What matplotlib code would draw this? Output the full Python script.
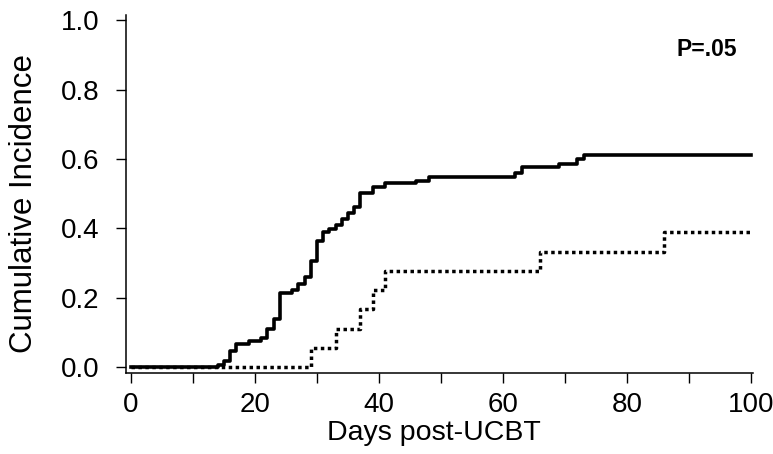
import matplotlib
matplotlib.use("Agg")
import matplotlib.pyplot as plt

# --- dados ---
# curva cheia (grupo 1): dias e incidência acumulada após cada degrau
dias_1 = [0, 14, 15, 16, 17, 19, 21, 22, 23, 24, 26, 27, 28, 29, 30, 31, 32, 33,
          34, 35, 36, 37, 39, 41, 46, 48, 62, 63, 69, 72, 73, 100]
inc_1 = [0.0, 0.007, 0.019, 0.047, 0.066, 0.076, 0.085, 0.110, 0.139, 0.213, 0.223,
         0.240, 0.261, 0.307, 0.364, 0.390, 0.399, 0.410, 0.426, 0.445, 0.462, 0.501,
         0.520, 0.530, 0.537, 0.549, 0.559, 0.576, 0.585, 0.599, 0.611, 0.611]

# curva pontilhada (grupo 2)
dias_2 = [0, 29, 33, 37, 39, 41, 66, 86, 100]
inc_2 = [0.0, 0.056, 0.111, 0.167, 0.222, 0.278, 0.333, 0.389, 0.389]

xticks = [0, 10, 20, 30, 40, 50, 60, 70, 80, 90, 100]
xticklabels = ["0", "", "20", "", "40", "", "60", "", "80", "", "100"]
yticks = [0.0, 0.2, 0.4, 0.6, 0.8, 1.0]
yticklabels = ["0.0", "0.2", "0.4", "0.6", "0.8", "1.0"]

plt.rcParams["font.family"] = ["Liberation Sans", "DejaVu Sans"]

fig = plt.figure(figsize=(7.73, 4.54), dpi=100)
ax = fig.add_axes([0.1626, 0.1778, 0.8115, 0.789])

ax.step(dias_2, inc_2, where="post", color="black", lw=2.5,
        linestyle=(0, (1, 1)), dash_capstyle="butt")
ax.step(dias_1, inc_1, where="post", color="black", lw=2.6)

ax.set_xlim(-0.855, 100.32)
ax.set_ylim(-0.0173, 1.0144)

for s in ["top", "right"]:
    ax.spines[s].set_visible(False)
for s in ["left", "bottom"]:
    ax.spines[s].set_linewidth(1.1)

ax.set_xticks(xticks)
ax.set_xticklabels(xticklabels)
ax.set_yticks(yticks)
ax.set_yticklabels(yticklabels)
ax.tick_params(axis="both", direction="out", length=7, width=1.0, labelsize=20)
ax.tick_params(axis="x", pad=6.5)
ax.tick_params(axis="y", pad=12)

ax.set_xlabel("Days post-UCBT", fontsize=20.5, va="center")
ax.xaxis.set_label_coords(0.4915, -0.1666)
ax.set_ylabel("Cumulative Incidence", fontsize=22.5, va="center")
ax.yaxis.set_label_coords(-0.162, 0.475)

ax.text(97.7, 0.9165, "P=.05", ha="right", va="center", fontsize=16.5, fontweight="bold")

fig.savefig("out.png", dpi=100)
